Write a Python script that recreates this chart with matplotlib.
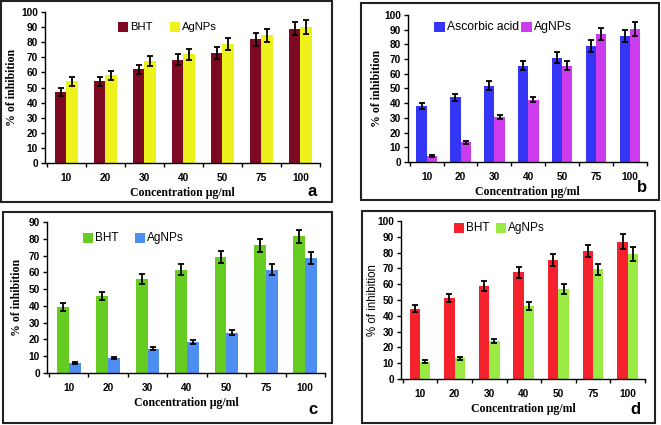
import matplotlib
matplotlib.use("Agg")
import matplotlib.pyplot as plt
from matplotlib.patches import Rectangle
import numpy as np

W, H = 661, 425

concentrations = ["10", "20", "30", "40", "50", "75", "100"]

# panel a
a_bht = [47, 54, 62, 68.5, 73, 82, 89]
a_bht_err = [2.8, 2.8, 3.2, 3.5, 3.8, 4.2, 4.5]
a_ag = [54, 58, 67.5, 72, 79, 84.5, 90]
a_ag_err = [2.8, 3.0, 3.5, 3.8, 4.0, 4.2, 4.8]

# panel b
b_asc = [38, 44, 52, 65.5, 71, 79, 85.5]
b_asc_err = [1.8, 2.2, 2.8, 3.0, 3.5, 4.2, 4.2]
b_ag = [4, 13.5, 30.5, 42.5, 65.5, 87, 90.5]
b_ag_err = [0.5, 1.0, 1.5, 2.0, 3.2, 4.2, 4.5]

# panel c
c_bht = [39.5, 46, 56, 61.5, 69, 76, 81.5]
c_bht_err = [2.3, 2.5, 3.0, 3.2, 3.7, 4.0, 4.0]
c_ag = [6, 9, 14.5, 18.5, 24, 61.5, 68.5]
c_ag_err = [0.5, 0.7, 1.0, 1.0, 1.5, 3.2, 3.5]

# panel d
d_bht = [44.5, 51.5, 59, 67.5, 75.5, 81, 87]
d_bht_err = [2.3, 2.5, 3.0, 3.5, 3.8, 4.0, 4.5]
d_ag = [11, 13, 24, 46, 57, 69.5, 79]
d_ag_err = [0.8, 0.8, 1.3, 2.5, 3.0, 3.5, 4.5]

SANS = "Liberation Sans"
SERIF = "Liberation Serif"

fig = plt.figure(figsize=(W / 100, H / 100), dpi=100)


def fx(x):
    return x / W


def fy(y):
    return 1 - y / H


def border(x0, y0, x1, y1):
    fig.patches.append(Rectangle((fx(x0), fy(y1)), fx(x1 - x0), (y1 - y0) / H,
                                 transform=fig.transFigure, fill=False,
                                 edgecolor="#222222", linewidth=1.5))


def legend_item(x, y, color, label, size):
    s = size * 0.9
    fig.patches.append(Rectangle((fx(x), fy(y + s / 2)), fx(s), s / H,
                                 transform=fig.transFigure, facecolor=color,
                                 edgecolor="none"))
    fig.text(fx(x + s + 2), fy(y), label, fontsize=size * 0.74, family=SANS,
             va="center", ha="left")


def panel(box, ymax, s1, e1, c1, s2, e2, c2, letter, letter_xy,
          ylab_sans=False, ylab_x=None):
    left, right, top, bottom = box
    ax = fig.add_axes([fx(left), fy(bottom), fx(right - left), (bottom - top) / H])
    x = np.arange(len(concentrations))
    w = 0.3
    ekw = dict(ecolor="black", elinewidth=1.3, capsize=2.5, capthick=1.3)
    ax.bar(x - w / 2, s1, w, color=c1, yerr=e1, error_kw=ekw)
    ax.bar(x + w / 2, s2, w, color=c2, yerr=e2, error_kw=ekw)
    ax.set_xlim(-0.55, 6.45)
    ax.set_ylim(0, ymax)
    ax.set_yticks(np.arange(0, ymax + 1, 10))
    ax.set_xticks(x)
    ax.set_xticklabels(concentrations)
    ax.set_xticks(np.arange(-0.5, 7, 1), minor=True)
    ax.tick_params(axis="x", which="major", length=0, pad=7)
    ax.tick_params(axis="x", which="minor", length=3, width=1, direction="out")
    ax.tick_params(axis="y", length=3, width=1, direction="out", pad=2)
    for lab in ax.get_xticklabels() + ax.get_yticklabels():
        lab.set_fontsize(7.3)
        lab.set_fontweight("bold")
        lab.set_family(SANS)
    for sp in ["top", "right"]:
        ax.spines[sp].set_visible(False)
    for sp in ["left", "bottom"]:
        ax.spines[sp].set_linewidth(1.0)
    ax.set_xlabel("Concentration µg/ml", fontsize=8.5, fontweight="bold",
                  family=SERIF, labelpad=3)
    if ylab_sans:
        ax.set_ylabel("% of inhibition", fontsize=8.3, family=SANS)
    else:
        ax.set_ylabel("% of inhibition", fontsize=8.5, fontweight="bold",
                      family=SERIF)
    # label anchor is the right edge of the rotated text
    ax.yaxis.set_label_coords((ylab_x + 5.5 - left) / (right - left), 0.5)
    fig.text(fx(letter_xy[0]), fy(letter_xy[1]), letter, fontsize=12,
             fontweight="bold", family=SANS, ha="center", va="center")
    return ax


# panel a
border(1, 1, 332, 202)
panel((45, 320, 12, 163), 100, a_bht, a_bht_err, "#7d0a22",
      a_ag, a_ag_err, "#eef21c", "a", (312, 191), ylab_x=13)
legend_item(118, 27, "#7d0a22", "BHT", 11)
legend_item(170, 27, "#eef21c", "AgNPs", 11)

# panel b
border(361, 3, 659, 200)
panel((408, 647, 15, 162), 100, b_asc, b_asc_err, "#3535f5",
      b_ag, b_ag_err, "#cc3cec", "b", (642, 188), ylab_x=377)
legend_item(434, 27, "#3535f5", "Ascorbic acid", 11.8)
legend_item(521, 27, "#cc3cec", "AgNPs", 11.8)

# panel c
border(3, 212, 332, 423)
panel((47, 325, 222, 373), 90, c_bht, c_bht_err, "#66cc22",
      c_ag, c_ag_err, "#4d8ef0", "c", (313, 410), ylab_x=17)
legend_item(83, 238, "#66cc22", "BHT", 11.5)
legend_item(135, 238, "#4d8ef0", "AgNPs", 11.5)

# panel d
border(362, 211, 655, 423)
panel((401, 645, 221, 379), 100, d_bht, d_bht_err, "#f5222e",
      d_ag, d_ag_err, "#9aea44", "d", (635, 409), ylab_sans=True, ylab_x=373)
legend_item(454, 228, "#f5222e", "BHT", 11.5)
legend_item(496, 228, "#9aea44", "AgNPs", 11.5)

fig.savefig("out.png", dpi=100)
